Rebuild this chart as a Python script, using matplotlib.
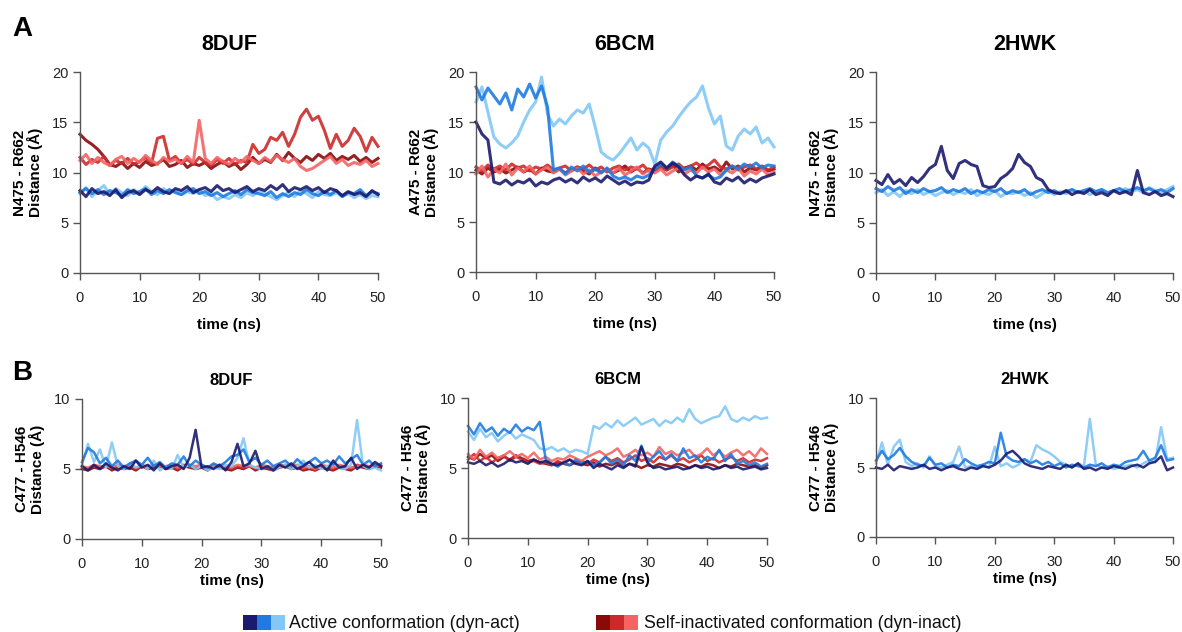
import numpy as np
import matplotlib
matplotlib.use("Agg")
import matplotlib.pyplot as plt
from matplotlib.patches import Rectangle

plt.rcParams['font.family'] = ['Liberation Sans', 'DejaVu Sans']

# ---------------- data ----------------
time_ns = list(range(0, 51))

# Panel A: 8DUF  (N475 - R662)
a_8duf_act1 = [8.2,7.6,8.4,7.9,8.1,7.7,8.3,7.5,8.0,8.2,7.8,8.3,8.0,8.5,8.1,7.9,8.4,8.2,8.6,8.0,8.3,8.5,8.1,8.7,8.2,8.4,8.0,8.3,8.6,8.1,8.4,8.2,8.7,8.3,8.8,8.1,8.5,8.3,8.6,8.2,8.5,8.0,8.4,8.2,7.7,8.1,7.8,8.0,7.6,8.2,7.8]
a_8duf_act2 = [8.0,8.4,7.9,8.3,7.8,8.2,8.0,7.7,8.3,7.9,8.1,8.4,7.8,8.2,7.9,8.3,8.0,7.8,8.2,8.4,7.9,8.1,7.7,8.0,7.6,7.9,8.2,7.8,8.3,8.0,7.9,7.7,8.1,7.5,7.9,7.6,8.0,7.8,8.3,7.9,7.7,8.1,7.8,8.2,7.6,8.0,7.9,8.3,7.7,8.1,7.9]
a_8duf_act3 = [7.9,8.5,7.6,8.2,8.7,7.8,8.4,8.0,7.7,8.3,7.9,8.6,8.1,7.8,8.4,8.0,8.2,7.8,8.1,7.9,8.3,7.7,7.9,7.3,7.6,7.4,7.8,7.5,8.0,7.7,8.2,7.9,7.6,7.3,7.7,8.0,7.6,8.2,7.9,7.5,8.1,7.8,7.7,8.0,7.6,7.9,7.5,7.8,7.4,7.7,7.6]
a_8duf_ina1 = [13.8,13.2,12.8,12.3,11.6,10.8,10.6,11.0,10.4,10.9,10.5,11.1,10.7,10.9,11.3,10.6,10.8,11.2,10.5,10.9,10.7,11.0,10.4,10.8,11.1,10.6,10.9,10.3,10.8,11.5,10.9,11.3,11.0,11.8,11.2,12.0,11.4,11.0,11.6,11.2,11.8,11.4,11.9,11.2,11.6,11.3,11.7,11.1,11.5,11.0,11.4]
a_8duf_ina2 = [11.5,10.8,11.3,11.0,11.6,10.7,11.2,10.9,11.4,10.8,11.1,11.5,10.9,13.4,13.6,11.2,11.6,10.9,11.3,10.8,11.5,11.0,10.7,11.3,10.9,11.4,10.8,11.2,11.0,12.8,11.9,12.3,13.5,13.2,14.0,12.6,13.8,15.5,16.3,15.2,15.6,14.2,12.4,13.8,12.6,13.2,14.4,13.6,12.1,13.5,12.6]
a_8duf_ina3 = [11.2,11.8,10.9,11.5,11.0,10.7,11.3,11.6,10.9,11.4,11.0,11.7,11.2,10.8,11.5,11.1,11.3,10.9,11.6,11.0,15.2,11.4,10.9,11.5,11.1,10.8,11.4,11.0,11.6,11.2,10.9,11.5,11.1,11.7,11.3,11.0,11.4,10.6,10.2,10.4,10.8,11.2,11.6,10.9,11.3,10.7,11.0,10.8,11.2,10.6,10.9]

# Panel A: 6BCM  (A475 - R662)
a_6bcm_act1 = [15.0,13.8,13.2,9.0,8.8,9.2,8.7,9.1,8.9,9.3,8.6,9.0,8.8,9.2,9.4,9.0,9.3,8.9,9.5,9.1,9.4,9.0,9.6,9.2,8.8,9.1,8.7,9.0,8.9,9.2,10.6,11.0,10.4,10.9,10.5,9.7,9.2,9.6,9.4,9.8,9.0,8.8,9.4,9.1,9.5,8.9,9.3,9.0,9.4,9.6,9.8]
a_6bcm_act2 = [18.5,17.2,18.4,17.6,16.8,17.9,16.2,18.3,17.5,18.8,17.4,18.6,16.5,10.2,10.4,9.8,10.5,10.1,10.6,10.0,10.3,9.9,10.4,9.6,9.3,9.5,9.2,9.6,9.4,9.7,10.3,10.8,10.4,11.0,10.6,10.2,10.5,9.6,9.4,9.7,9.3,9.5,10.2,10.6,10.3,10.8,10.5,10.9,10.4,10.7,10.6]
a_6bcm_act3 = [17.0,18.5,16.0,13.5,12.8,12.4,12.9,13.6,15.0,16.2,17.0,19.5,15.8,14.6,15.3,14.8,15.6,16.2,15.9,16.8,14.5,12.0,11.5,11.2,11.8,12.6,13.4,12.2,12.9,12.4,10.8,13.2,14.0,14.6,15.5,16.3,17.0,17.5,18.6,16.4,14.8,15.6,12.6,12.2,13.6,14.3,13.8,14.5,12.9,13.4,12.5]
a_6bcm_ina1 = [10.2,9.8,10.4,10.0,10.3,9.9,10.2,10.5,10.0,10.3,9.8,10.4,10.1,10.0,10.3,9.9,10.2,10.5,10.1,9.8,10.4,10.0,10.3,9.9,10.2,10.6,10.0,10.4,9.9,10.3,10.1,10.5,10.2,10.7,10.0,10.4,10.6,10.2,10.8,10.3,10.5,10.1,11.0,10.3,10.6,10.0,10.4,10.2,10.5,10.1,10.3]
a_6bcm_ina2 = [10.5,10.1,10.7,10.3,10.6,10.2,10.8,10.4,10.6,10.1,10.5,10.3,10.7,10.2,10.4,10.6,10.1,10.5,10.3,10.7,10.2,10.5,10.0,10.4,10.6,10.2,10.5,10.3,10.7,10.1,10.4,10.6,10.2,10.5,10.8,10.3,10.6,10.9,10.4,10.7,11.2,10.5,10.3,10.6,10.2,10.5,10.7,10.3,10.6,10.2,10.5]
a_6bcm_ina3 = [9.8,10.6,9.5,10.3,9.9,10.8,9.7,10.4,10.0,10.6,9.8,10.2,10.5,9.9,10.3,9.7,10.1,10.4,9.8,10.2,9.6,10.0,10.3,9.9,10.4,9.7,10.1,10.5,9.8,10.2,9.9,10.3,9.7,10.1,10.4,9.8,10.2,9.9,10.5,10.0,10.3,9.7,10.2,9.9,10.4,9.6,10.1,9.8,10.3,9.7,10.0]

# Panel A: 2HWK  (N475 - R662)
a_2hwk_act1 = [9.2,8.8,9.8,8.9,9.3,8.7,9.5,9.0,9.6,10.4,10.8,12.6,10.2,9.4,10.9,11.2,10.8,10.6,8.7,8.5,8.6,9.4,9.8,10.4,11.8,11.0,10.6,9.5,9.2,8.3,8.0,7.9,8.2,7.8,8.1,7.9,8.3,7.8,8.0,7.7,8.2,7.9,8.1,7.8,10.2,8.0,7.8,8.1,7.7,7.9,7.6]
a_2hwk_act2 = [8.4,8.1,8.6,8.2,8.5,7.9,8.3,8.0,8.4,8.1,8.2,8.5,8.0,8.3,8.1,8.4,7.9,8.2,8.0,8.3,8.1,8.4,7.9,8.2,8.0,8.3,7.8,8.1,8.3,8.0,8.2,7.9,8.1,8.3,8.0,8.2,8.4,8.1,8.3,8.0,8.2,8.4,8.1,8.3,8.5,8.2,8.4,8.1,8.3,8.0,8.4]
a_2hwk_act3 = [8.0,8.3,7.7,8.1,7.6,8.2,7.9,8.3,7.8,8.1,7.7,8.0,8.2,7.8,8.1,7.9,8.3,7.7,8.0,7.8,8.2,7.6,8.0,7.9,8.1,7.7,8.0,7.5,7.9,8.2,7.8,8.1,7.9,8.3,8.0,8.2,7.8,8.1,8.3,7.9,8.2,8.0,8.4,8.1,8.3,8.0,8.5,8.2,7.9,8.3,8.6]

# Panel B: 8DUF  (C477 - H546)
b_8duf_act1 = [5.2,4.9,5.3,5.0,5.4,5.1,4.9,5.2,5.0,5.6,5.1,5.3,4.9,5.4,5.0,5.2,5.3,5.0,5.8,7.8,5.1,5.2,5.0,5.3,4.9,5.5,6.8,5.2,5.4,6.3,5.0,5.2,4.9,5.3,5.1,5.4,5.0,5.2,5.5,5.1,5.3,4.9,5.6,5.1,5.2,5.8,5.0,5.3,5.1,5.5,5.2]
b_8duf_act2 = [5.5,6.5,6.2,5.4,5.8,5.2,5.6,5.1,5.4,5.6,5.3,5.8,5.2,5.5,5.1,5.4,5.3,5.9,5.2,5.6,5.3,5.1,5.4,5.2,5.5,5.9,6.0,6.4,5.5,5.8,5.3,5.6,5.2,5.4,5.6,5.2,5.7,5.3,5.5,5.8,5.4,5.6,5.3,5.9,5.4,5.7,6.0,5.3,5.6,5.2,5.4]
b_8duf_act3 = [5.3,6.8,5.5,6.4,5.1,6.9,5.2,5.0,5.4,5.1,5.3,5.0,5.6,4.9,5.2,5.0,6.0,5.1,5.3,5.0,5.2,4.9,5.1,5.0,5.3,5.2,5.8,7.2,5.3,5.1,5.0,5.2,4.9,5.1,5.3,5.0,5.2,5.6,5.1,5.3,5.0,5.2,5.4,5.1,5.0,5.3,8.5,5.2,5.0,5.1,4.9]
b_8duf_ina1 = [5.0,4.9,5.1,5.0,5.2,4.9,5.1,5.0,5.1,4.9,5.2,5.0,5.1,5.2,5.0,5.1,4.9,5.2,5.1,5.0,5.1,4.9,5.2,5.1,5.0,4.9,5.1,5.0,5.2,4.9,5.1,5.0,4.9,5.1,5.2,5.0,5.1,4.9,5.0,4.9,5.1,5.0,4.9,5.1,5.0,4.9,5.2,5.1,5.0,5.2,5.1]
b_8duf_ina2 = [5.1,5.0,5.2,5.1,5.3,5.0,5.2,5.1,5.2,5.0,5.3,5.1,5.2,5.3,5.1,5.2,5.0,5.3,5.2,5.1,5.2,5.0,5.3,5.2,5.1,5.0,5.2,5.1,5.3,5.0,5.2,5.1,5.0,5.2,5.3,5.1,5.2,5.0,5.1,4.9,5.2,5.1,5.0,5.2,5.1,5.0,5.3,5.2,5.1,5.3,5.2]
b_8duf_ina3 = [5.2,5.1,5.3,5.2,5.2,5.1,5.3,5.2,5.3,5.1,5.2,5.2,5.3,5.2,5.2,5.3,5.1,5.2,5.3,5.2,5.3,5.1,5.2,5.3,5.2,5.1,5.3,5.2,5.2,5.1,5.3,5.2,5.1,5.3,5.2,5.2,5.3,5.1,5.2,5.0,5.3,5.2,5.1,5.3,5.2,5.1,5.2,5.3,5.2,5.2,5.3]

# Panel B: 6BCM  (C477 - H546)
b_6bcm_act1 = [5.4,5.3,5.5,5.2,5.4,5.1,5.3,5.6,5.4,5.5,5.3,5.6,5.4,5.5,5.3,5.2,5.4,5.6,5.3,5.2,5.5,5.0,5.3,5.1,4.9,5.2,5.0,5.3,5.1,6.5,5.4,5.0,5.1,4.9,5.0,5.1,4.9,5.0,5.2,5.0,5.1,4.9,5.0,5.2,5.0,5.1,4.9,5.0,5.1,4.9,5.0]
b_6bcm_act2 = [8.0,7.4,8.2,7.6,7.9,7.3,7.8,7.5,8.1,7.6,7.9,7.7,8.3,5.6,5.3,5.1,5.4,5.2,5.6,5.3,5.5,5.2,5.4,5.8,5.3,5.6,5.2,5.9,5.5,6.6,5.4,5.8,6.2,5.6,6.0,5.5,6.4,5.7,5.9,5.4,5.8,5.6,6.3,5.5,6.0,5.3,5.5,5.2,5.4,5.1,5.3]
b_6bcm_act3 = [7.6,7.0,7.8,7.2,7.5,6.9,7.3,7.6,7.1,7.4,7.2,7.0,6.4,6.3,6.5,6.2,6.4,6.1,6.3,6.2,6.0,8.0,7.8,8.2,7.9,8.4,8.0,8.3,8.6,8.1,8.3,8.5,8.0,8.4,8.2,8.6,8.3,9.2,8.5,8.2,8.4,8.6,8.7,9.4,8.5,8.3,8.6,8.4,8.7,8.5,8.6]
b_6bcm_ina1 = [5.8,5.6,6.0,5.7,5.9,5.5,5.8,5.6,5.9,5.7,5.5,5.6,5.4,5.3,5.2,5.4,5.3,5.2,5.4,5.3,5.2,5.4,5.1,5.3,5.2,5.4,5.1,5.3,5.2,5.0,5.2,5.1,5.3,5.2,5.1,5.3,5.2,5.0,5.2,5.1,5.3,5.2,5.0,5.2,5.1,5.3,5.2,5.1,5.2,5.0,5.2]
b_6bcm_ina2 = [5.6,6.0,5.5,5.8,5.4,5.7,5.9,5.5,5.8,5.6,5.4,5.5,5.3,5.4,5.2,5.5,5.3,5.6,5.4,5.5,5.3,5.6,5.4,5.8,5.5,5.7,5.4,5.6,5.9,5.5,5.7,5.4,5.8,5.6,5.9,5.5,5.7,5.4,5.6,5.9,5.5,5.7,5.4,5.6,5.8,5.5,5.7,5.4,5.6,5.5,5.7]
b_6bcm_ina3 = [6.0,5.6,6.3,5.8,6.1,5.7,5.9,6.2,5.8,6.0,5.7,6.1,5.6,5.8,5.5,5.7,5.6,5.9,5.7,5.5,5.8,6.0,6.2,5.9,6.1,6.4,5.8,6.0,6.3,5.9,6.1,5.8,6.5,6.0,6.2,5.9,6.1,6.3,5.8,6.0,6.4,5.9,6.2,5.8,6.1,6.3,5.9,6.2,5.8,6.4,6.0]

# Panel B: 2HWK  (C477 - H546)
b_2hwk_act1 = [5.0,4.9,5.2,4.8,5.1,5.0,4.9,5.0,5.2,4.9,5.0,4.8,5.0,5.1,4.9,4.8,5.0,4.9,5.1,5.0,5.2,5.5,6.0,6.2,5.8,5.3,5.1,5.0,4.9,5.1,5.0,4.9,5.2,5.0,5.3,4.9,5.0,4.8,5.0,4.9,5.1,5.0,4.9,5.1,5.2,5.0,5.3,5.4,5.8,4.8,5.0]
b_2hwk_act2 = [5.5,6.2,5.6,5.9,6.4,5.8,5.4,5.2,5.1,5.7,5.2,5.3,5.0,5.2,5.1,5.6,5.3,5.1,5.2,5.4,5.3,7.5,5.8,5.5,5.4,5.6,5.3,5.5,5.2,5.4,5.1,5.3,5.0,5.2,5.1,5.0,5.2,5.1,5.3,5.0,5.2,5.1,5.4,5.5,5.6,6.2,5.5,5.7,6.6,5.5,5.6]
b_2hwk_act3 = [5.3,6.8,5.2,6.5,7.0,5.4,5.1,5.3,5.0,5.8,5.1,5.0,5.2,5.4,6.5,5.0,5.1,4.9,5.2,5.0,6.5,5.1,5.3,5.0,5.2,5.6,5.4,6.6,6.3,6.1,5.8,5.4,5.2,5.0,5.3,5.1,8.5,5.2,5.0,5.1,4.9,5.0,5.1,5.2,5.0,5.3,5.5,5.4,7.9,5.6,5.7]

structures = ["8DUF", "6BCM", "2HWK"]
ylabels_a = ["N475 - R662\nDistance (Å)", "A475 - R662\nDistance (Å)", "N475 - R662\nDistance (Å)"]
ylabels_b = ["C477 - H546\nDistance (Å)"] * 3
x_ticks = [0, 10, 20, 30, 40, 50]
y_ticks_a = [0, 5, 10, 15, 20]
y_ticks_b = [0, 5, 10]
legend_labels = ["Active conformation (dyn-act)", "Self-inactivated conformation (dyn-inact)"]

act_colors = ["#1a1a6e", "#1f7be0", "#82c8f6"]
ina_colors = ["#8a0a0a", "#cc2a2a", "#f46464"]

panels_a = [
    ([a_8duf_act1, a_8duf_act2, a_8duf_act3], [a_8duf_ina1, a_8duf_ina2, a_8duf_ina3]),
    ([a_6bcm_act1, a_6bcm_act2, a_6bcm_act3], [a_6bcm_ina1, a_6bcm_ina2, a_6bcm_ina3]),
    ([a_2hwk_act1, a_2hwk_act2, a_2hwk_act3], []),
]
panels_b = [
    ([b_8duf_act1, b_8duf_act2, b_8duf_act3], [b_8duf_ina1, b_8duf_ina2, b_8duf_ina3]),
    ([b_6bcm_act1, b_6bcm_act2, b_6bcm_act3], [b_6bcm_ina1, b_6bcm_ina2, b_6bcm_ina3]),
    ([b_2hwk_act1, b_2hwk_act2, b_2hwk_act3], []),
]

# ---------------- layout ----------------
W, H = 1182, 632
fig = plt.figure(figsize=(W / 100, H / 100), dpi=100)

def box(l, r, t, b):
    return [l / W, (H - b) / H, (r - l) / W, (b - t) / H]

boxes_a = [box(80, 378, 72, 273), box(476, 774, 72, 272), box(876, 1173, 72, 273)]
boxes_b = [box(82, 381, 399, 539), box(468, 767, 398, 538), box(876, 1173, 398, 537)]

axis_col = "#555555"

def style(ax, yticks, ymax, title, tsize, tpad, ylabel):
    ax.set_xlim(0, 50)
    ax.set_ylim(0, ymax)
    for s in ["top", "right"]:
        ax.spines[s].set_visible(False)
    for s in ["left", "bottom"]:
        ax.spines[s].set_color(axis_col)
        ax.spines[s].set_linewidth(1.0)
    ax.set_xticks(x_ticks)
    ax.set_yticks(yticks)
    ax.tick_params(colors=axis_col, labelcolor="#222222", labelsize=10.5,
                   length=5, width=1.0, direction="out")
    ax.tick_params(axis="x", pad=8)
    ax.set_title(title, fontsize=tsize, fontweight="bold", pad=tpad)
    ax.set_xlabel("time (ns)", fontsize=11, fontweight="bold")
    ax.set_ylabel(ylabel, fontsize=11, fontweight="bold", labelpad=6, linespacing=1.0)

def draw(ax, acts, inas, lw):
    for vals, c in zip(inas, ina_colors):
        ax.plot(time_ns, vals, color=c, lw=lw, alpha=0.9, clip_on=False)
    for vals, c in zip(acts[::-1], act_colors[::-1]):
        ax.plot(time_ns, vals, color=c, lw=lw, alpha=0.9, clip_on=False)

for i in range(3):
    ax = fig.add_axes(boxes_a[i])
    draw(ax, *panels_a[i], lw=2.2)
    style(ax, y_ticks_a, 20, structures[i], 15.5, 16, ylabels_a[i])
    ax.xaxis.labelpad = 9

for i in range(3):
    ax = fig.add_axes(boxes_b[i])
    draw(ax, *panels_b[i], lw=1.8)
    style(ax, y_ticks_b, 10, structures[i], 12, 10, ylabels_b[i])
    ax.xaxis.labelpad = 2

fig.text(12 / W, 1 - 29 / H, "A", fontsize=20, fontweight="bold", va="center", ha="left")
fig.text(12 / W, 1 - 373 / H, "B", fontsize=20, fontweight="bold", va="center", ha="left")

# legend
def legend_group(x0, colors, label, tx):
    for k, c in enumerate(colors):
        fig.patches.append(Rectangle(((x0 + k * 14) / W, 1 - 630 / H), 14 / W, 15 / H,
                                     transform=fig.transFigure, facecolor=c, edgecolor="none"))
    fig.text(tx / W, 1 - 623 / H, label, fontsize=12.8, va="center", ha="left", color="#111111")

legend_group(243, act_colors, legend_labels[0], 289)
legend_group(596, ina_colors, legend_labels[1], 644)

fig.savefig("out.png", dpi=100)
